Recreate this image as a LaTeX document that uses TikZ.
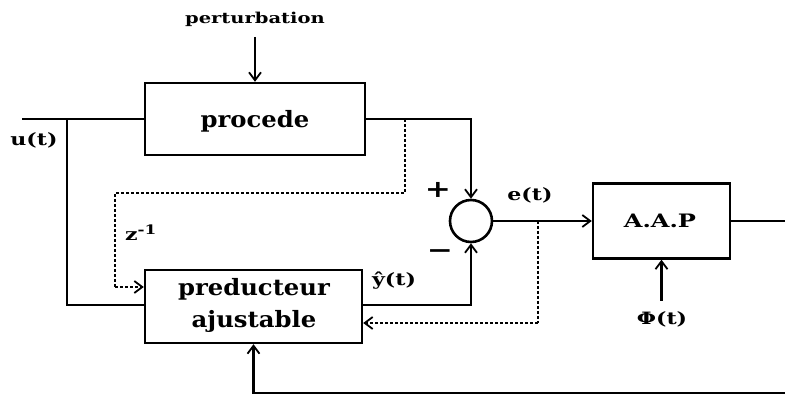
\documentclass[tikz,border=0pt]{standalone}
\usepackage{fontspec}
\usetikzlibrary{arrows.meta}
\newfontfamily\diagfont[FakeStretch=1.3]{DejaVu Serif Bold}
\newfontfamily\boxfont[FakeStretch=1.08]{DejaVu Serif Bold}
\begin{document}
\begin{tikzpicture}[x=1pt,y=-1pt,line width=2.2pt,
  blk/.style={draw,line width=2.4pt,inner sep=0pt},
  tip/.style={-{Straight Barb[length=8pt,width=12pt,line width=1.8pt]}},
  dsh/.style={dash pattern=on 3pt off 2pt,line width=1.8pt},
  lbl/.style={font=\diagfont\fontsize{17}{19}\selectfont,inner sep=0pt},
  sgn/.style={font=\diagfont\fontsize{24}{24}\selectfont,inner sep=0pt},
  big/.style={font=\boxfont\fontsize{22.5}{26}\selectfont,inner sep=0pt}]
\useasboundingbox (0,0) rectangle (785,395);
% blocks
\node[blk,minimum width=220pt,minimum height=72pt] (proc) at (255,119) {};
\node[big] (proct) at (255,121) {procede};
\node[blk,minimum width=217pt,minimum height=73pt] (pred) at (253.5,306.5) {};
\node[big] (predt1) at (254,289) {preducteur};
\node[big] (predt2) at (254,321) {ajustable};
\node[blk,minimum width=137pt,minimum height=75pt] (aap) at (661.5,221) {};
\node[big,font=\diagfont\fontsize{18.5}{22}\selectfont] (aapt) at (660,221) {A.A.P};
\node[circle,draw,line width=2.6pt,minimum size=42pt,inner sep=0pt] (sum) at (471,221) {};
% labels
\node[lbl,font=\diagfont\fontsize{15}{17}\selectfont] (pert) at (255,19) {perturbation};
\node[lbl] (u) at (34,140) {u(t)};
\node[lbl] (z) at (141,233) {z\textsuperscript{\fontsize{13}{13}\selectfont -1}};
\node[sgn] (plus) at (438,190) {+};
\node[sgn] (minus) at (440,254) {−};
\node[lbl] (e) at (530,195) {e(t)};
\node[lbl] (yh) at (394,281) {ŷ(t)};
\node[lbl] (phi) at (662,319) {Φ(t)};
% coordinates
\coordinate (in) at (22,119);
\coordinate (ub) at (67,119);
\coordinate (uc) at (67,305);
\coordinate (d1) at (405,119);
\coordinate (d2) at (405,193);
\coordinate (d3) at (115,193);
\coordinate (d4) at (115,287);
\coordinate (e1) at (538,221);
\coordinate (e2) at (538,323);
\coordinate (out) at (785,221);
\coordinate (fb) at (785,393);
\coordinate (pa) at (255,37);
\coordinate (phit) at (661.5,301);
% connectors
\draw[tip] (pa) -- (proc.north);
\draw (in) -- (proc.west);
\draw (ub) -- (uc) -- (pred.west |- uc);
\draw[tip] (proc.east) -| (sum.north);
\draw[tip] (pred.east |- uc) -| (sum.south);
\draw[tip] (sum.east) -- (aap.west);
\draw (aap.east) -- (out);
\draw[tip] (phit) -- (aap.south);
\draw[tip] (fb) -| (pred.south);
\draw[dsh] (d1) -- (d2) -- (d3) -- (d4);
\draw[dsh,tip] (d4) -- (pred.west |- d4);
\draw[dsh] (e1) -- (e2);
\draw[dsh,tip] (e2) -- (pred.east |- e2);
\end{tikzpicture}
\end{document}
